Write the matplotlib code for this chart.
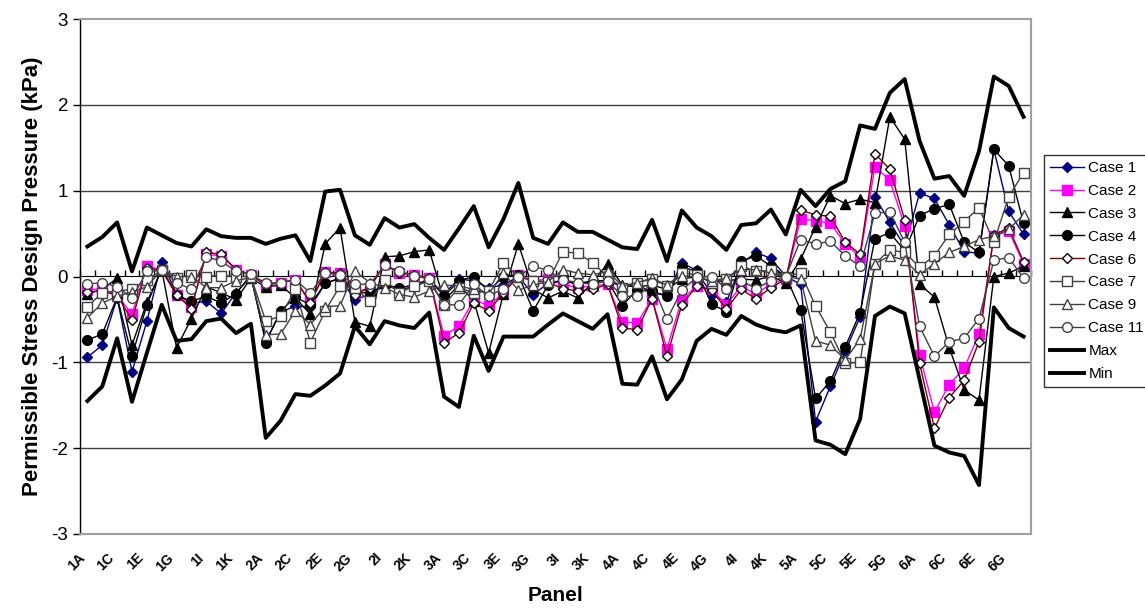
import numpy as np
import matplotlib
matplotlib.use("Agg")
import matplotlib.pyplot as plt
from matplotlib.transforms import ScaledTranslation

plt.rcParams['font.family'] = ['Liberation Sans', 'DejaVu Sans']
plt.rcParams['axes.unicode_minus'] = False

# panel names (64 categories)
panels = ['1A', '1B', '1C', '1D', '1E', '1F', '1G', '1H', '1I', '1J', '1K', '1L',
          '2A', '2B', '2C', '2D', '2E', '2F', '2G', '2H', '2I', '2J', '2K', '2L',
          '3A', '3B', '3C', '3D', '3E', '3F', '3G', '3H', '3I', '3J', '3K', '3L',
          '4A', '4B', '4C', '4D', '4E', '4F', '4G', '4H', '4I', '4J', '4K', '4L',
          '5A', '5B', '5C', '5D', '5E', '5F', '5G', '5H',
          '6A', '6B', '6C', '6D', '6E', '6F', '6G', '6H']

case1 = [-0.94, -0.80, -0.25, -1.11, -0.52, 0.17, -0.20, -0.31, -0.29, -0.43, -0.19, 0.00,
         -0.75, -0.42, -0.34, -0.36, -0.08, -0.02, -0.27, -0.21, -0.11, -0.15, -0.12, -0.04,
         -0.20, -0.03, -0.05, -0.13, -0.10, 0.00, -0.21, -0.08, -0.06, -0.08, -0.05, -0.05,
         -0.12, -0.10, -0.18, -0.22, 0.16, 0.07, -0.21, -0.30, 0.15, 0.28, 0.21, 0.00,
         -0.09, -1.69, -1.28, -0.87, -0.47, 0.93, 0.63, 0.35,
         0.97, 0.91, 0.60, 0.29, 0.27, 1.48, 0.76, 0.49]
case2 = [-0.16, -0.14, -0.22, -0.44, 0.12, 0.08, -0.21, -0.35, 0.26, 0.24, 0.08, 0.02,
         -0.10, -0.07, -0.04, -0.29, 0.05, 0.04, -0.19, -0.13, 0.14, 0.04, 0.02, -0.02,
         -0.69, -0.58, -0.27, -0.34, -0.19, 0.02, -0.05, -0.03, -0.09, -0.13, -0.11, -0.09,
         -0.53, -0.54, -0.26, -0.84, -0.27, -0.11, -0.15, -0.33, -0.11, -0.21, -0.08, -0.03,
         0.67, 0.65, 0.62, 0.38, 0.23, 1.28, 1.12, 0.59,
         -0.91, -1.58, -1.26, -1.07, -0.67, 0.47, 0.53, 0.15]
case3 = [-0.20, -0.15, -0.02, -0.80, -0.30, 0.08, -0.83, -0.49, -0.12, -0.19, -0.27, -0.02,
         -0.12, -0.10, -0.25, -0.44, 0.38, 0.57, -0.53, -0.58, 0.23, 0.24, 0.29, 0.31,
         -0.28, -0.10, -0.28, -0.89, -0.20, 0.38, -0.15, -0.25, -0.17, -0.25, -0.07, 0.15,
         -0.10, -0.12, -0.10, -0.15, -0.03, 0.00, -0.06, -0.05, -0.03, -0.04, 0.00, -0.07,
         0.20, 0.58, 0.94, 0.85, 0.90, 0.86, 1.86, 1.60,
         -0.09, -0.24, -0.83, -1.32, -1.44, 0.00, 0.04, 0.12]
case4 = [-0.74, -0.67, -0.24, -0.93, -0.33, 0.09, -0.22, -0.29, -0.23, -0.31, -0.20, 0.02,
         -0.77, -0.40, -0.24, -0.33, -0.08, -0.02, -0.19, -0.19, -0.10, -0.13, -0.10, -0.03,
         -0.23, -0.05, 0.00, -0.17, 0.00, 0.02, -0.40, -0.10, -0.03, -0.10, -0.05, -0.05,
         -0.34, -0.15, -0.18, -0.23, 0.11, 0.06, -0.32, -0.41, 0.18, 0.24, 0.12, 0.00,
         -0.39, -1.42, -1.22, -0.82, -0.42, 0.44, 0.51, 0.30,
         0.71, 0.79, 0.84, 0.40, 0.28, 1.48, 1.29, 0.62]
case6 = [-0.18, -0.17, -0.22, -0.51, 0.10, 0.07, -0.21, -0.38, 0.28, 0.26, 0.08, 0.02,
         -0.10, -0.07, -0.04, -0.31, 0.05, 0.04, -0.21, -0.13, 0.14, 0.04, 0.02, -0.02,
         -0.77, -0.66, -0.31, -0.40, -0.19, 0.00, -0.05, -0.07, -0.14, -0.17, -0.15, -0.09,
         -0.60, -0.62, -0.26, -0.93, -0.33, -0.11, -0.16, -0.38, -0.15, -0.26, -0.13, -0.03,
         0.77, 0.72, 0.70, 0.40, 0.26, 1.43, 1.25, 0.66,
         -1.01, -1.77, -1.41, -1.21, -0.76, 0.48, 0.57, 0.17]
case7 = [-0.35, -0.19, -0.17, -0.15, -0.04, 0.07, -0.02, 0.02, 0.00, 0.01, 0.00, 0.00,
         -0.52, -0.46, -0.15, -0.77, -0.40, -0.11, -0.13, -0.29, -0.04, -0.19, -0.11, -0.05,
         -0.33, -0.13, -0.19, -0.17, 0.16, 0.00, -0.05, -0.06, 0.29, 0.27, 0.16, 0.00,
         -0.13, -0.07, -0.03, -0.11, 0.04, 0.02, -0.07, -0.03, 0.12, 0.06, 0.07, 0.00,
         0.04, -0.34, -0.65, -1.01, -1.00, 0.15, 0.31, 0.28,
         0.11, 0.24, 0.49, 0.64, 0.80, 0.40, 0.93, 1.21]
case9 = [-0.48, -0.31, -0.23, -0.18, -0.12, 0.08, 0.00, 0.00, -0.13, -0.13, -0.05, -0.01,
         -0.68, -0.67, -0.40, -0.56, -0.35, -0.34, 0.06, -0.07, -0.13, -0.21, -0.24, -0.17,
         -0.10, -0.11, -0.15, -0.20, 0.04, -0.16, -0.10, -0.06, 0.08, 0.04, 0.02, 0.06,
         -0.11, -0.07, -0.02, -0.10, 0.01, -0.01, -0.05, -0.02, 0.08, 0.08, 0.04, 0.00,
         -0.03, -0.75, -0.80, -0.97, -0.73, 0.15, 0.24, 0.19,
         0.02, 0.15, 0.28, 0.35, 0.43, 0.47, 0.55, 0.72]
case11 = [-0.09, -0.07, -0.12, -0.25, 0.06, 0.07, -0.07, -0.15, 0.23, 0.18, 0.06, 0.03,
          -0.08, -0.07, -0.04, -0.19, 0.04, 0.02, -0.09, -0.09, 0.13, 0.06, 0.01, -0.03,
          -0.33, -0.33, -0.09, -0.23, -0.14, 0.00, 0.12, 0.07, -0.04, -0.07, -0.09, -0.05,
          -0.23, -0.23, -0.08, -0.50, -0.16, -0.01, 0.00, -0.14, -0.05, -0.14, -0.05, 0.00,
          0.43, 0.38, 0.41, 0.24, 0.12, 0.74, 0.75, 0.40,
          -0.58, -0.93, -0.76, -0.72, -0.49, 0.19, 0.22, -0.02]
p_max = [0.35, 0.46, 0.63, 0.06, 0.57, 0.48, 0.39, 0.35, 0.55, 0.47, 0.45, 0.45,
         0.38, 0.44, 0.48, 0.18, 0.99, 1.01, 0.48, 0.37, 0.68, 0.57, 0.61, 0.45,
         0.31, 0.56, 0.82, 0.34, 0.67, 1.09, 0.45, 0.38, 0.63, 0.52, 0.52, 0.43,
         0.34, 0.32, 0.66, 0.18, 0.77, 0.57, 0.47, 0.31, 0.60, 0.62, 0.78, 0.49,
         1.01, 0.82, 1.02, 1.11, 1.76, 1.72, 2.14, 2.30,
         1.58, 1.14, 1.17, 0.94, 1.46, 2.33, 2.22, 1.86]
p_min = [-1.45, -1.28, -0.72, -1.46, -0.89, -0.33, -0.75, -0.73, -0.52, -0.49, -0.66, -0.55,
         -1.88, -1.68, -1.37, -1.39, -1.27, -1.13, -0.58, -0.79, -0.52, -0.57, -0.60, -0.42,
         -1.40, -1.52, -0.69, -1.10, -0.70, -0.70, -0.70, -0.56, -0.43, -0.52, -0.61, -0.44,
         -1.25, -1.26, -0.93, -1.43, -1.20, -0.75, -0.61, -0.68, -0.46, -0.56, -0.62, -0.65,
         -0.57, -1.91, -1.96, -2.07, -1.66, -0.46, -0.35, -0.43,
         -1.20, -1.97, -2.05, -2.09, -2.43, -0.36, -0.60, -0.70]

x = np.arange(len(panels))

fig = plt.figure(figsize=(11.45, 6.10), dpi=100)
ax = fig.add_axes([80/1145, 1 - 534/610, 951/1145, 515/610])

# gridlines
for g in [-2, -1, 1, 2]:
    ax.axhline(g, color='#404040', lw=1.0, zorder=0)

ax.plot(x, case1, color='#000080', lw=1, marker='D', ms=5, mfc='#000080', mec='#000080', label='Case 1')
ax.plot(x, case2, color='#FF00FF', lw=1, marker='s', ms=6.5, mfc='#FF00FF', mec='#FF00FF', label='Case 2')
ax.plot(x, case3, color='black', lw=1, marker='^', ms=7, mfc='black', mec='black', label='Case 3')
ax.plot(x, case4, color='black', lw=1, marker='o', ms=7, mfc='black', mec='black', label='Case 4')
ax.plot(x, case6, color='#800000', lw=1, marker='D', ms=5, mfc='white', mec='black', mew=1, label='Case 6')
ax.plot(x, case7, color='#404040', lw=1, marker='s', ms=7, mfc='white', mec='#404040', mew=1, label='Case 7')
ax.plot(x, case9, color='#404040', lw=1, marker='^', ms=7, mfc='white', mec='#404040', mew=1, label='Case 9')
ax.plot(x, case11, color='#404040', lw=1, marker='o', ms=7, mfc='white', mec='#404040', mew=1, label='Case 11')
ax.plot(x, p_max, color='black', lw=2.8, label='Max')
ax.plot(x, p_min, color='black', lw=2.8, label='Min')

ax.set_xlim(-0.5, len(panels) - 0.5)
ax.set_ylim(-3, 3)
ax.set_yticks([-3, -2, -1, 0, 1, 2, 3])
ax.tick_params(axis='y', labelsize=13.5, direction='out', length=5, width=1)

ax.set_xticks(x[::2])
ax.set_xticklabels(panels[::2], rotation=45, ha='right', rotation_mode='anchor',
                   fontsize=10, fontweight='bold')
ax.tick_params(axis='x', length=0, pad=12)
shift = ScaledTranslation(-10/100, 0, fig.dpi_scale_trans)
for lab in ax.get_xticklabels():
    lab.set_transform(lab.get_transform() + shift)

# category axis crossing at zero with tick marks between categories
zero_axis = ax.secondary_xaxis(0.5)
zero_axis.set_xticks(np.arange(-0.5, len(panels), 1))
zero_axis.set_xticklabels([])
zero_axis.tick_params(direction='out', length=4, width=1, color='black')
zero_axis.spines['bottom'].set_color('#404040')

for s in ['top', 'right', 'bottom']:
    ax.spines[s].set_color('#A0A0A0')
    ax.spines[s].set_linewidth(1.5)
ax.spines['left'].set_color('black')
ax.spines['left'].set_linewidth(1)

ax.set_ylabel('Permissible Stress Design Pressure (kPa)', fontsize=16, fontweight='bold', labelpad=6)
ax.set_xlabel('Panel', fontsize=15, fontweight='bold', labelpad=9)

leg = fig.legend(loc='upper left', bbox_to_anchor=(1044/1145, 1 - 155/610), fontsize=11,
                 frameon=True, fancybox=False, edgecolor='black', handlelength=2.2,
                 borderpad=0.4, labelspacing=0.58, handletextpad=0.3, borderaxespad=0)
leg.get_frame().set_linewidth(1)

fig.savefig('out.png', dpi=100)
